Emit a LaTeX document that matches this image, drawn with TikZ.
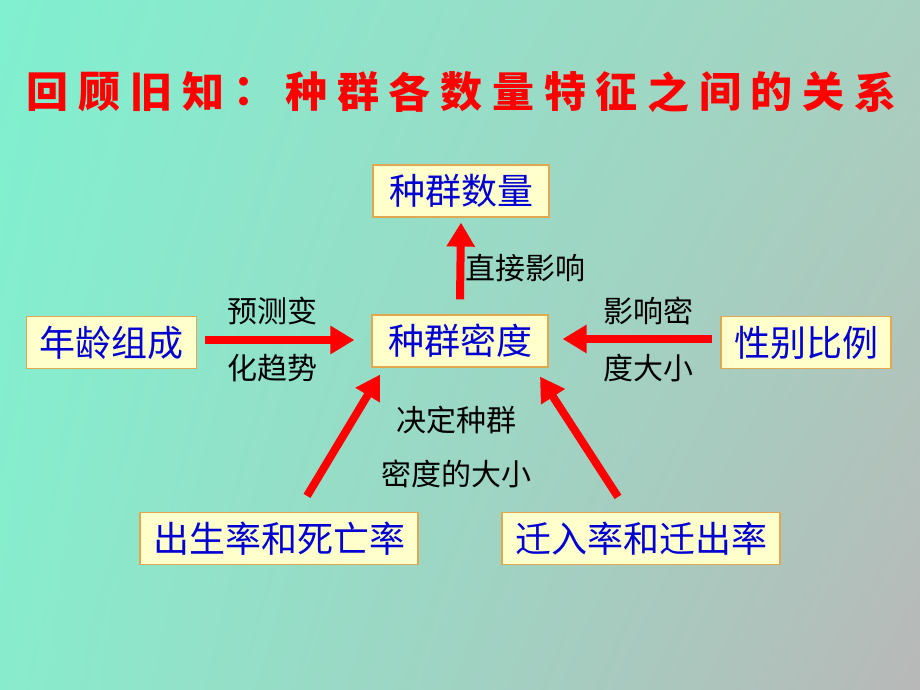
\documentclass[tikz,border=0pt]{standalone}
\usepackage{fontspec}
\setmainfont{Noto Sans CJK SC}
\usepackage{xcolor}
\usepackage{tikz}
\usetikzlibrary{arrows.meta,calc,shadings}

\definecolor{bgtl}{RGB}{128,240,208}
\definecolor{bgtr}{RGB}{168,208,192}
\definecolor{bgbl}{RGB}{136,236,204}
\definecolor{bgbr}{RGB}{184,184,184}
\definecolor{boxfill}{RGB}{255,255,204}
\definecolor{boxline}{RGB}{224,168,80}
\definecolor{boxtext}{RGB}{0,0,210}

\begin{document}
\begin{tikzpicture}[x=1pt,y=1pt]
            \tikzset{titlechar/.style = {text=red, font=\fontsize{42}{46}\selectfont\bfseries, inner sep=0pt}}
            \tikzset{box/.style = {draw=boxline, line width=1.2pt, fill=boxfill, text=boxtext,
                font=\fontsize{36}{40}\selectfont, inner xsep=13pt, inner ysep=0pt, minimum height=52pt}}
            \tikzset{note/.style = {text=black, font=\fontsize{30}{34}\selectfont, inner sep=0pt}}
            \tikzset{redarrow/.style = {draw=red, line width=8pt, -{Triangle[length=24pt,width=27pt]}}}

            % background
            \useasboundingbox (0,0) rectangle (920,690);
            \shade[upper left=bgtl, upper right=bgtr, lower left=bgbl, lower right=bgbr] (0,0) rectangle (920,690);

            % title
            \foreach \c [count=\i from 0] in {回,顾,旧,知,：,种,群,各,数,量,特,征,之,间,的,关,系}
            {
              \node[titlechar] (t\i) at (48+51.7*\i,598) {\c};
            }

            % boxes
            \node[box, minimum width=176pt] (number) at (461,499) {种群数量};
            \node[box, minimum width=176pt] (density) at (460,349) {种群密度};
            \node[box] (age) at (111.5,347.5) {年龄组成};
            \node[box] (sex) at (806,347.5) {性别比例};
            \node[box] (birth) at (279,151.5) {出生率和死亡率};
            \node[box] (migration) at (641,151.5) {迁入率和迁出率};

            % arrows
            \draw[redarrow] ([yshift=15pt]density.north) -- ([yshift=-5pt]number.south);
            \draw[redarrow] ([xshift=8pt,yshift=2.5pt]age.east) -- ([xshift=-17pt,yshift=1pt]density.west);
            \draw[redarrow] ([xshift=-8pt,yshift=3.5pt]sex.west) -- ([xshift=14pt,yshift=2pt]density.east);
            \draw[redarrow] ([shift={(28,16)}]birth.north) -- ([shift={(-80,-7)}]density.south);
            \draw[redarrow] ([shift={(-23,15)}]migration.north) -- ([shift={(80,-9)}]density.south);

            % labels
            \node[note] (direct) at (525,422) {直接影响};
            \node[note] (predict1) at (272,379) {预测变};
            \node[note] (predict2) at (272,322) {化趋势};
            \node[note] (affect1) at (648,379) {影响密};
            \node[note] (affect2) at (648,322) {度大小};
            \node[note] (decide1) at (456,270) {决定种群};
            \node[note] (decide2) at (456,216) {密度的大小};

          \end{tikzpicture}
\end{document}
